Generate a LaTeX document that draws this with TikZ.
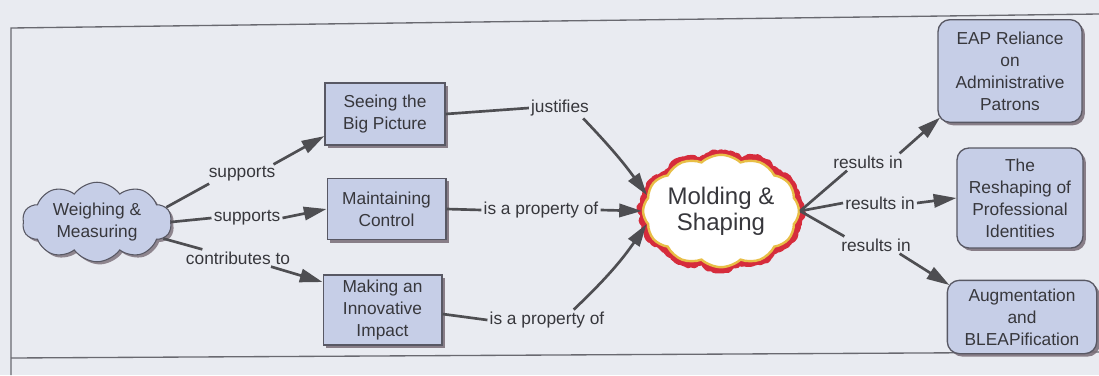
\documentclass[tikz,border=0pt]{standalone}
\usepackage{fontspec}
\setmainfont{Liberation Sans}
\usetikzlibrary{shapes.symbols,shadows,arrows.meta,decorations.pathmorphing,calc}

\definecolor{bgc}{RGB}{233,235,241}
\definecolor{boxc}{RGB}{198,206,231}
\definecolor{bord}{RGB}{88,88,100}
\definecolor{shad}{RGB}{120,108,118}
\definecolor{lnc}{RGB}{78,78,82}
\definecolor{txt}{RGB}{55,55,60}
\definecolor{framec}{RGB}{105,105,112}
\definecolor{redc}{RGB}{214,44,60}
\definecolor{ylw}{RGB}{232,190,70}

\begin{document}
\begin{tikzpicture}[x=0.75pt,y=-0.75pt,
  every node/.style={text=txt},
  box/.style={draw=bord, line width=1pt, fill=boxc, align=center,
    font=\fontsize{13}{16.5}\selectfont, inner sep=2pt,
    drop shadow={shadow xshift=2.2pt, shadow yshift=-2.2pt, fill=shad, opacity=0.85}},
  rbox/.style={box, rounded corners=9pt},
  cloudA/.style={cloud, cloud puffs=10, cloud puff arc=110, aspect=2,
    draw=bord, line width=0.8pt, fill=boxc, align=center,
    font=\fontsize{13}{16.5}\selectfont, inner sep=0pt,
    drop shadow={shadow xshift=2pt, shadow yshift=-2pt, fill=shad, opacity=0.8}},
  cloudB/.style={cloud, cloud puffs=12, cloud puff arc=85, aspect=1.5,
    inner sep=0pt, fill=white, draw=ylw, line width=1.8pt,
    preaction={draw=redc, line width=8pt, line join=round, line cap=round, decorate,
      decoration={random steps, segment length=1.8pt, amplitude=1.4pt}},
    align=center, font=\fontsize{18}{19.5}\selectfont},
  lab/.style={font=\fontsize{13}{15}\selectfont, inner sep=1.5pt},
  conn/.style={draw=lnc, line width=2pt},
  arr/.style={conn, -{Triangle[length=17pt,width=10pt]}},
]
% canvas and frame
\fill[bgc] (0,0) rectangle (1099,375);
\useasboundingbox (0,0) rectangle (1099,375);
\draw[framec, line width=1pt] (11,375) -- (11,28) -- (1099,14);
\draw[framec, line width=1pt] (11,358) -- (1099,352);

% concepts
\node[cloudA, minimum width=112pt, minimum height=57pt] (wm) at (97,222) {Weighing \&\\Measuring};
\node[box, minimum width=90pt, minimum height=46.5pt] (bp) at (385,114) {Seeing the\\Big Picture};
\node[box, minimum width=89pt, minimum height=46pt] (mc) at (386.5,209) {Maintaining\\Control};
\node[box, minimum width=89pt, minimum height=52.5pt] (ii) at (382.5,310) {Making an\\Innovative\\Impact};
\node[cloudB, minimum width=116pt, minimum height=78pt] (ms) at (721,211) {Molding \&\\Shaping};
\node[rbox, minimum width=108pt, minimum height=77pt] (eap) at (1010,71) {EAP Reliance\\on\\Administrative\\Patrons};
\node[rbox, minimum width=94.5pt, minimum height=75pt] (rp) at (1020,198) {The\\Reshaping of\\Professional\\Identities};
\node[rbox, minimum width=112pt, minimum height=55pt] (ab) at (1022,317) {Augmentation\\and\\BLEAPification};

% linking phrases
\node[lab] (l1) at (242,174) {supports};
\node[lab] (l2) at (247,218) {supports};
\node[lab] (l3) at (238,258) {contributes to};
\node[lab] (l4) at (560,108) {justifies};
\node[lab] (l5) at (541,210) {is a property of};
\node[lab] (l6) at (547,320) {is a property of};
\node[lab] (l7) at (868,162) {results in};
\node[lab] (l8) at (880,203) {results in};
\node[lab] (l9) at (876,245) {results in};

% links
\draw[conn] (wm.12) -- ([xshift=2pt]l1.south west);
\draw[arr] ([xshift=-3pt]l1.north east) -- (bp.200);
\draw[conn] (wm.0) -- (l2.west);
\draw[arr] (l2.east) -- (mc.west);
\draw[conn] (wm.-14) -- ([xshift=14pt]l3.north west);
\draw[arr] ([xshift=-16pt]l3.south east) -- (ii.155);

\draw[conn] (bp.east) -- (l4.west);
\draw[arr] ([xshift=-6pt]l4.south east) to[bend left=4] (ms.168);
\draw[conn] (mc.east) -- (l5.west);
\draw[arr] (l5.east) -- (ms.west);
\draw[conn] ([yshift=-3pt]ii.east) -- (l6.west);
\draw[arr] ([xshift=20pt]l6.north) to[bend right=6] (ms.190);

\draw[conn] (ms.east) -- ([xshift=12pt]l7.south west);
\draw[arr] ([xshift=-4pt]l7.north east) -- ([xshift=2pt,yshift=4pt]eap.south west);
\draw[conn] (ms.east) -- (l8.west);
\draw[arr] (l8.east) -- (rp.west);
\draw[conn] (ms.east) -- ([xshift=4pt]l9.north west);
\draw[arr] ([xshift=-10pt]l9.south east) -- ([xshift=2pt,yshift=-4pt]ab.north west);
\end{tikzpicture}
\end{document}
